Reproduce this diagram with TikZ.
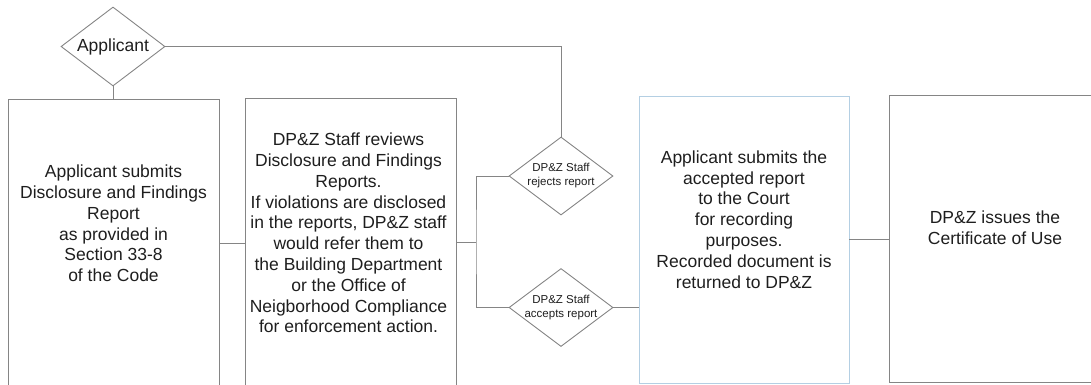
\documentclass[tikz,border=0pt]{standalone}
\usepackage{fontspec}
\setmainfont{Liberation Sans}
\usetikzlibrary{shapes.geometric}
\definecolor{linegray}{HTML}{858585}
\definecolor{boxblue}{HTML}{B4CFE3}
\definecolor{txt}{HTML}{1E1E1E}
\tikzset{
  procbox/.style={draw=linegray, line width=0.9pt, rectangle, inner sep=0pt},
  boxtext/.style={font=\fontsize{17.5}{20.8}\selectfont, text=txt, align=center},
  bigdia/.style={draw=linegray, line width=0.9pt, diamond, inner sep=0pt, aspect=1.316,
    minimum width=104pt, minimum height=79pt, font=\fontsize{17.5}{20}\selectfont, text=txt},
  smalldia/.style={draw=linegray, line width=0.9pt, diamond, inner sep=-3pt, aspect=1.33,
    minimum width=104pt, minimum height=78pt, font=\fontsize{11.5}{14}\selectfont, text=txt, align=center},
  conn/.style={draw=linegray, line width=0.9pt}
}
\begin{document}
\begin{tikzpicture}[x=1pt,y=-1pt]
\useasboundingbox (0,0) rectangle (1091,384);

\node[bigdia] (app) at (113,46.5) {Applicant};

\node[procbox, minimum width=211pt, minimum height=291pt,
  label={[boxtext, yshift=21pt]center:Applicant submits\\Disclosure and Findings\\Report\\as provided in\\Section 33-8\\of the Code}]
  (b1) at (113.5,244.5) {};

\node[procbox, minimum width=211pt, minimum height=292pt,
  label={[boxtext, yshift=11pt, xshift=-2pt]center:DP\&Z Staff reviews\\Disclosure and Findings\\Reports.\\If violations are disclosed\\in the reports, DP\&Z staff\\would refer them to\\the Building Department\\or the Office of\\Neigborhood Compliance\\for enforcement action.}]
  (b2) at (350.5,244) {};

\node[smalldia] (rej) at (561,176) {DP\&Z Staff\\rejects report};
\node[smalldia] (acc) at (561,307.5) {DP\&Z Staff\\accepts report};

\node[procbox, draw=boxblue, minimum width=210pt, minimum height=287pt,
  label={[boxtext, yshift=20pt]center:Applicant submits the\\accepted report\\to the Court\\for recording\\purposes.\\Recorded document is\\returned to DP\&Z}]
  (b3) at (744,239.5) {};

\node[procbox, minimum width=212pt, minimum height=287pt,
  label={[boxtext, yshift=11pt]center:DP\&Z issues the\\Certificate of Use}]
  (b4) at (995,238.5) {};

\coordinate (j) at (476,242);

\draw[conn] (app.south) -- (app.south |- b1.north);
\draw[conn] (app.east) -| (rej.north);
\draw[conn] (b1.east |- 0,243) -- (b2.west |- 0,243);
\draw[conn] (b2.east |- j) -- (j);
\draw[conn] (rej.west) -| (j) |- (acc.west);
\draw[conn] (acc.east) -- (acc.east -| b3.west);
\draw[conn] (b3.east |- 0,239) -- (b4.west |- 0,239);
\end{tikzpicture}
\end{document}
